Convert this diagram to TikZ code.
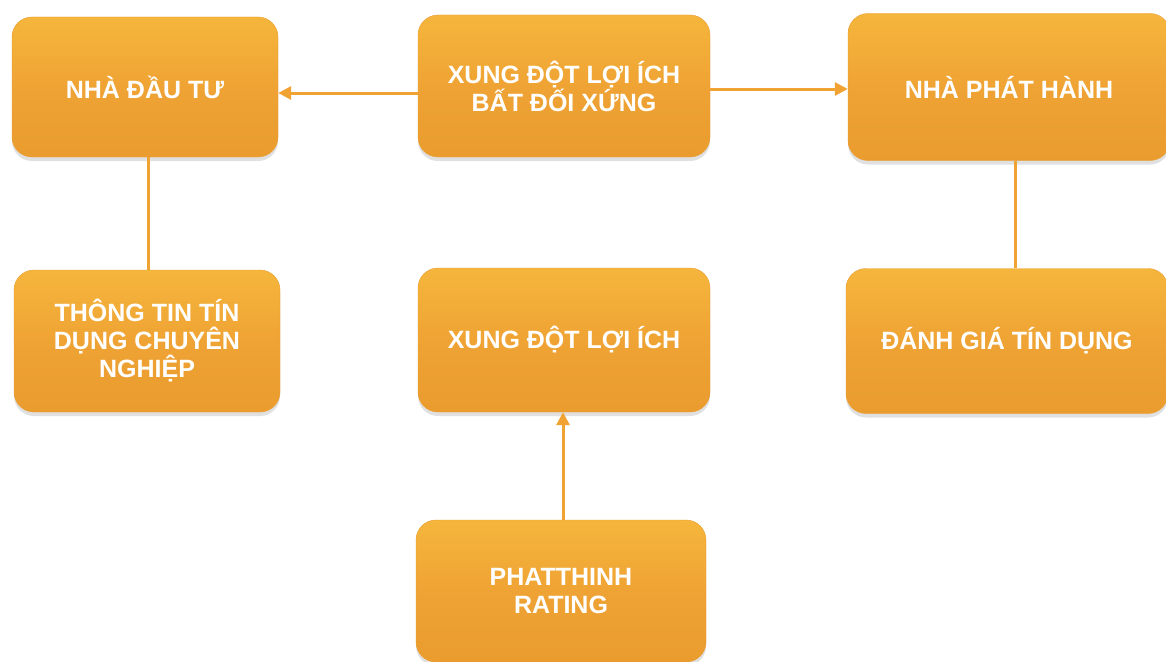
\documentclass[tikz,border=0pt]{standalone}
\usepackage{fontspec}
\setmainfont{Liberation Sans}
\usetikzlibrary{arrows.meta,shadows}
\definecolor{boxtop}{HTML}{F5B63C}
\definecolor{boxmid}{HTML}{EFA334}
\definecolor{boxbot}{HTML}{EA9C2E}
\definecolor{linecol}{HTML}{F0A232}
\tikzset{
  box/.style={rounded corners=20pt, inner sep=0pt, align=center,
    top color=boxtop, bottom color=boxbot, middle color=boxmid,
    draw=boxbot, line width=0.4pt,
    text=white, font=\bfseries\fontsize{25}{28}\selectfont,
    drop shadow={shadow xshift=0pt, shadow yshift=-4pt, opacity=0.22, fill=black!55}},
  conn/.style={draw=linecol, line width=3pt},
  arr/.style={conn, -{Triangle[length=13pt,width=13pt]}}
}
\begin{document}
\begin{tikzpicture}[x=1pt,y=-1pt]
\useasboundingbox[fill=white] (0,0) rectangle (1166,661);
\node[box, minimum width=266pt, minimum height=140pt] (inv) at (145,87) {NHÀ ĐẦU TƯ};
\node[box, minimum width=292pt, minimum height=142pt] (asym) at (564,86) {XUNG ĐỘT LỢI ÍCH\\BẤT ĐỐI XỨNG};
\node[box, minimum width=322pt, minimum height=147pt] (iss) at (1009,87) {NHÀ PHÁT HÀNH};
\node[box, minimum width=266pt, minimum height=142pt] (info) at (147,341) {THÔNG TIN TÍN\\DỤNG CHUYÊN\\NGHIỆP};
\node[box, minimum width=292pt, minimum height=144pt] (conf) at (564,340) {XUNG ĐỘT LỢI ÍCH};
\node[box, minimum width=322pt, minimum height=145pt] (rate) at (1007,341) {ĐÁNH GIÁ TÍN DỤNG};
\node[box, minimum width=290pt, minimum height=142pt] (pt) at (561,591) {PHATTHINH\\RATING};
\coordinate (a1) at (asym.west |- 0,93);
\coordinate (a2) at (inv.east |- 0,93);
\draw[arr] (a1) -- (a2);
\coordinate (b1) at (asym.east |- 0,89);
\coordinate (b2) at (iss.west |- 0,89);
\draw[arr] (b1) -- (b2);
\coordinate (c1) at (148,0);
\draw[conn] (inv.south -| c1) -- (info.north -| c1);
\coordinate (d1) at (1015,0);
\draw[conn] (iss.south -| d1) -- (rate.north -| d1);
\coordinate (e1) at (563,0);
\draw[arr] (pt.north -| e1) -- (conf.south -| e1);
\end{tikzpicture}
\end{document}
